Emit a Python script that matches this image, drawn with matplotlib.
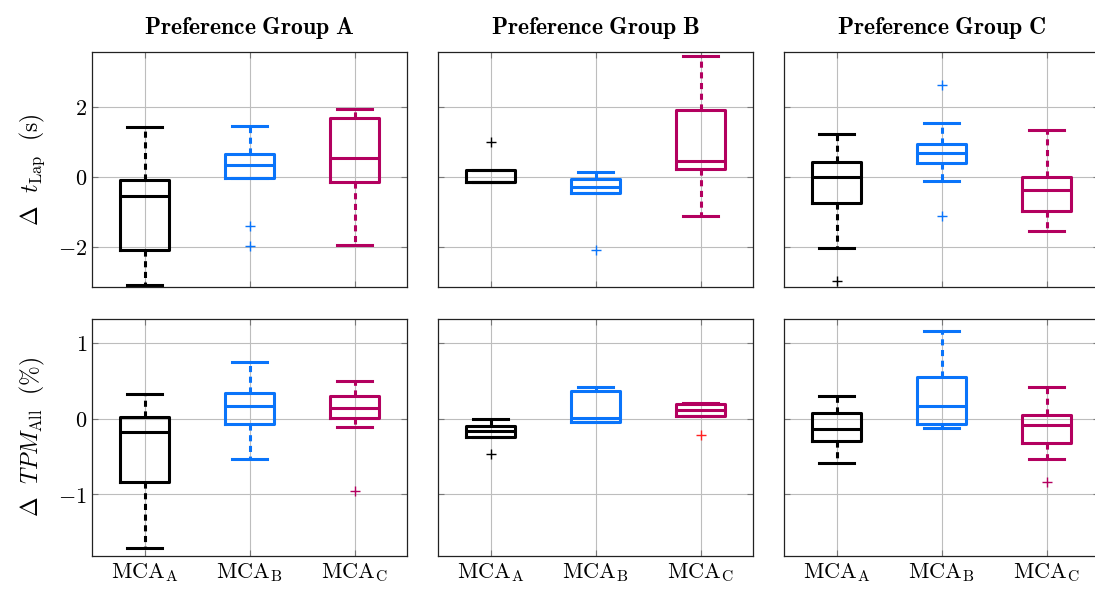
import matplotlib.pyplot as plt

plt.rcParams['mathtext.fontset'] = 'cm'
plt.rcParams['font.family'] = 'serif'

groups = ['Preference Group A', 'Preference Group B', 'Preference Group C']
methods = [r'$\mathrm{MCA}_{\mathrm{A}}$', r'$\mathrm{MCA}_{\mathrm{B}}$', r'$\mathrm{MCA}_{\mathrm{C}}$']
colors = ['black', '#0a74fa', '#b3005f']

# lap time delta (s): per group, per method
lap_whislo = [[-3.09, -0.03, -1.96], [-0.15, -0.48, -1.11], [-2.03, -0.11, -1.56]]
lap_q1 = [[-2.09, -0.03, -0.15], [-0.15, -0.48, 0.21], [-0.75, 0.38, -0.98]]
lap_med = [[-0.55, 0.33, 0.53], [-0.15, -0.30, 0.44], [-0.01, 0.69, -0.39]]
lap_q3 = [[-0.10, 0.66, 1.67], [0.18, -0.06, 1.90], [0.41, 0.92, -0.02]]
lap_whishi = [[1.41, 1.44, 1.92], [0.18, 0.12, 3.46], [1.21, 1.53, 1.34]]
lap_fliers = [[[], [-1.42, -1.97], []], [[1.0], [-2.08], []], [[-2.99], [2.63, -1.13], []]]

# TPM delta (%)
tpm_whislo = [[-1.71, -0.53, -0.11], [-0.24, -0.04, 0.03], [-0.59, -0.13, -0.53]]
tpm_q1 = [[-0.83, -0.07, 0.01], [-0.24, -0.04, 0.03], [-0.30, -0.07, -0.32]]
tpm_med = [[-0.18, 0.16, 0.14], [-0.17, 0.01, 0.11], [-0.14, 0.16, -0.08]]
tpm_q3 = [[0.02, 0.34, 0.29], [-0.10, 0.36, 0.19], [0.07, 0.54, 0.04]]
tpm_whishi = [[0.32, 0.74, 0.50], [0.0, 0.42, 0.20], [0.29, 1.15, 0.42]]
tpm_fliers = [[[], [], [-0.96]], [[-0.47], [], [-0.22]], [[], [], [-0.83]]]
tpm_flier_colors = [colors, [colors[0], colors[1], '#ff2020'], colors]

rows = [
    (lap_whislo, lap_q1, lap_med, lap_q3, lap_whishi, lap_fliers, [colors] * 3,
     r'$\Delta\ \ t_{\mathrm{Lap}}\ \ \mathrm{(s)}$', (-3.15, 3.56), [-2, 0, 2]),
    (tpm_whislo, tpm_q1, tpm_med, tpm_q3, tpm_whishi, tpm_fliers, tpm_flier_colors,
     r'$\Delta\ \ TPM_{\mathrm{All}}\ \ \mathrm{(\%)}$', (-1.81, 1.31), [-1, 0, 1]),
]

fig = plt.figure(figsize=(10.95, 5.9), dpi=100)
lefts = [92 / 1095, 438 / 1095, 784 / 1095]
bottoms = [1 - 287 / 590, 1 - 556 / 590]
w = 315 / 1095
heights = [235 / 590, 237 / 590]

for r, (wlo, q1, med, q3, whi, fl, fcols, ylab, ylim, yt) in enumerate(rows):
    for g in range(3):
        ax = fig.add_axes([lefts[g], bottoms[r], w, heights[r]])
        for i in range(3):
            stats = [dict(whislo=wlo[g][i], q1=q1[g][i], med=med[g][i],
                          q3=q3[g][i], whishi=whi[g][i], fliers=fl[g][i])]
            c = colors[i]
            ax.bxp(stats, positions=[i + 1], widths=0.46, showfliers=True,
                   boxprops=dict(color=c, linewidth=2.2),
                   medianprops=dict(color=c, linewidth=2.2),
                   whiskerprops=dict(color=c, linewidth=2.2, linestyle=(0, (2, 1.5))),
                   capprops=dict(color=c, linewidth=2.2),
                   capwidths=0.33,
                   flierprops=dict(marker='+', color=fcols[g][i],
                                   markeredgecolor=fcols[g][i],
                                   markersize=7, markeredgewidth=1.0),
                   manage_ticks=False)
        ax.set_xlim(0.5, 3.5)
        ax.set_ylim(*ylim)
        ax.set_xticks([1, 2, 3])
        ax.set_yticks(yt)
        ax.grid(True, color='#bdbdbd', linewidth=0.8)
        ax.set_axisbelow(True)
        ax.tick_params(direction='in', length=4, color='#777777', top=True, right=True,
                       labelsize=16)
        if r == 1:
            ax.set_xticklabels(methods)
        else:
            ax.set_xticklabels([])
            ax.set_title(r'$\mathbf{' + groups[g].replace(' ', r'\ ') + '}$',
                         fontsize=17, pad=13)
        if g == 0:
            ax.set_yticklabels([r'$%d$' % v if v >= 0 else r'$-%d$' % -v for v in yt])
            ax.set_ylabel(ylab, fontsize=17, labelpad=8)
        else:
            ax.set_yticklabels([])
        for s in ax.spines.values():
            s.set_color('#222222')
            s.set_linewidth(0.9)

fig.savefig('out.png', dpi=100)
